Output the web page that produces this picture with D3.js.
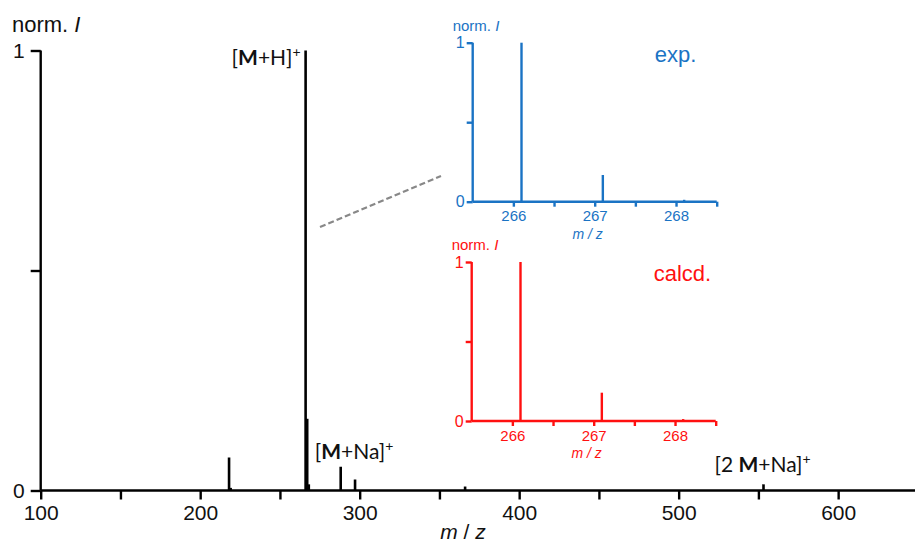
<!DOCTYPE html>
<html>
<head>
<meta charset="utf-8">
<script src="https://cdn.jsdelivr.net/npm/d3@7"></script>
<style>
  html, body { margin: 0; padding: 0; background: #fff; }
  svg { display: block; font-family: "Liberation Sans", Arial, sans-serif; }
</style>
</head>
<body>
<svg id="chart" width="915" height="543"></svg>
<script>
// Full-range mass spectrum: peak positions (m/z) and normalised intensities
const peakMz = [218.1, 219.1, 266.1, 267.1, 268.1, 288.1, 297.1, 366.1, 553.2];
const peakIntensity = [0.075, 0.006, 1.0, 0.163, 0.014, 0.054, 0.025, 0.009, 0.014];
const mainMajorTicks = [100, 200, 300, 400, 500, 600];
const mainMinorTicks = [150, 250, 350, 450, 550];

// Isotope pattern of [M+H]+, experimental and calculated
const isoMz = [266.1, 267.1, 268.1];
const expIntensity = [1.0, 0.168, 0.012];
const calcIntensity = [1.0, 0.178, 0.012];
const isoMajorTicks = [266, 267, 268];
const isoMinorTicks = [266.5, 267.5, 268.5];

// Peak annotations
const annotations = [
  { mz: 266.1, pre: "[", bold: "M", post: "+H]", sup: "+", dx: -74, y: 65 },
  { mz: 288.1, pre: "[", bold: "M", post: "+Na]", sup: "+", dx: -26, y: 459 },
  { mz: 553.2, pre: "[2 ", bold: "M", post: "+Na]", sup: "+", dx: -49, y: 472 }
];

const svg = d3.select("#chart");

// ---------- main spectrum ----------
const x = d3.scaleLinear().domain([100, 648]).range([40.7, 914.7]);
const y = d3.scaleLinear().domain([0, 1]).range([490.5, 50.5]);

const main = svg.append("g");

main.selectAll("line.peak")
  .data(peakMz.map((m, i) => ({ m, v: peakIntensity[i] })))
  .join("line")
  .attr("class", "peak")
  .attr("x1", d => x(d.m)).attr("x2", d => x(d.m))
  .attr("y1", y(0)).attr("y2", d => y(d.v))
  .attr("stroke", "#000").attr("stroke-width", 2.6);

const xAxisMain = d3.axisBottom(x)
  .tickValues(mainMajorTicks.concat(mainMinorTicks))
  .tickSize(9).tickPadding(6)
  .tickFormat(d => mainMajorTicks.includes(d) ? d : "");
const gx = main.append("g").attr("transform", `translate(0,${y(0)})`).call(xAxisMain);
gx.select(".domain").attr("d", `M${x(100)},0H915`).attr("stroke-width", 2.4);
gx.selectAll(".tick line").attr("stroke-width", 2.4);
gx.selectAll(".tick text").attr("font-size", 21).attr("fill", "#111")
  .attr("font-family", "Liberation Sans, Arial, sans-serif");

const yAxisMain = d3.axisLeft(y).tickValues([0, 0.5, 1]).tickSize(10).tickPadding(6)
  .tickFormat(d => d === 0.5 ? "" : d);
const gy = main.append("g").attr("transform", `translate(${x(100)},0)`).call(yAxisMain);
gy.select(".domain").attr("d", `M0,${y(1)}V${y(0)}`).attr("stroke-width", 2.4);
gy.selectAll(".tick line").attr("stroke-width", 2.4);
gy.selectAll(".tick text").attr("font-size", 21).attr("fill", "#111")
  .attr("font-family", "Liberation Sans, Arial, sans-serif");

// axis titles
const normMain = main.append("text").attr("x", 12).attr("y", 32)
  .attr("font-size", 22).attr("fill", "#111");
normMain.append("tspan").text("norm. ");
normMain.append("tspan").attr("font-style", "italic").text("I");

const mzMain = main.append("text").attr("x", 463).attr("y", 539)
  .attr("text-anchor", "middle").attr("font-size", 21).attr("fill", "#111");
mzMain.append("tspan").attr("font-style", "italic").text("m");
mzMain.append("tspan").text(" / ");
mzMain.append("tspan").attr("font-style", "italic").text("z");

// peak labels
annotations.forEach(a => {
  const t = main.append("text").attr("x", x(a.mz) + a.dx).attr("y", a.y)
    .attr("font-size", 21).attr("fill", "#111")
    .attr("font-family", "Lato, 'Liberation Sans', Arial, sans-serif");
  t.append("tspan").text(a.pre);
  t.append("tspan").attr("font-weight", "bold").text(a.bold);
  t.append("tspan").text(a.post);
  t.append("tspan").attr("font-size", 14).attr("dy", -8).text(a.sup);
});

// zoom guide
main.append("line")
  .attr("x1", 320).attr("y1", 227).attr("x2", 441).attr("y2", 176)
  .attr("stroke", "#888").attr("stroke-width", 2.2).attr("stroke-dasharray", "6,3");

// ---------- isotope insets ----------
function inset(cfg) {
  const g = svg.append("g");
  const ix = d3.scaleLinear().domain([265.5, 268.5]).range([cfg.left, cfg.left + 244]);
  const iy = d3.scaleLinear().domain([0, 1]).range([cfg.bottom, cfg.bottom - 159]);

  g.selectAll("line.peak")
    .data(isoMz.map((m, i) => ({ m, v: cfg.values[i] })))
    .join("line")
    .attr("class", "peak")
    .attr("x1", d => ix(d.m)).attr("x2", d => ix(d.m))
    .attr("y1", iy(0)).attr("y2", d => iy(d.v))
    .attr("stroke", cfg.color).attr("stroke-width", 2.4);

  const ax = d3.axisBottom(ix).tickValues(isoMajorTicks.concat(isoMinorTicks))
    .tickSize(5).tickPadding(4)
    .tickFormat(d => isoMajorTicks.includes(d) ? d : "");
  const gxi = g.append("g").attr("transform", `translate(0,${iy(0)})`).call(ax);
  gxi.select(".domain").attr("d", `M${ix(265.5)},0H${ix(268.5)}`);
  gxi.selectAll("path, line").attr("stroke", cfg.color).attr("stroke-width", 2.4);
  gxi.selectAll(".tick text").attr("fill", cfg.color).attr("font-size", 15)
    .attr("font-family", "Liberation Sans, Arial, sans-serif");

  const ay = d3.axisLeft(iy).tickValues([0, 0.5, 1]).tickSize(6).tickPadding(2)
    .tickFormat(d => d === 0.5 ? "" : d);
  const gyi = g.append("g").attr("transform", `translate(${ix(265.5)},0)`).call(ay);
  gyi.select(".domain").attr("d", `M0,${iy(1)}V${iy(0)}`);
  gyi.selectAll("path, line").attr("stroke", cfg.color).attr("stroke-width", 2.4);
  gyi.selectAll(".tick text").attr("fill", cfg.color).attr("font-size", 16)
    .attr("font-family", "Liberation Sans, Arial, sans-serif");

  const nt = g.append("text").attr("x", ix(265.5) - 20).attr("y", iy(1) - 12)
    .attr("font-size", 15).attr("fill", cfg.color);
  nt.append("tspan").text("norm. ");
  nt.append("tspan").attr("font-style", "italic").text("I");

  const mz = g.append("text").attr("x", ix(267) - 7).attr("y", iy(0) + 37)
    .attr("text-anchor", "middle").attr("font-size", 14).attr("fill", cfg.color)
    .attr("font-style", "italic");
  mz.text("m / z");

  g.append("text").attr("x", ix(265.5) + 182).attr("y", iy(1) + 19)
    .attr("font-size", 22).attr("fill", cfg.color)
    .text(cfg.label);
}

inset({ left: 472.7, bottom: 201.7, color: "#1a73c4", values: expIntensity, label: "exp." });
inset({ left: 471.7, bottom: 421, color: "#ff1010", values: calcIntensity, label: "calcd." });
</script>
</body>
</html>
